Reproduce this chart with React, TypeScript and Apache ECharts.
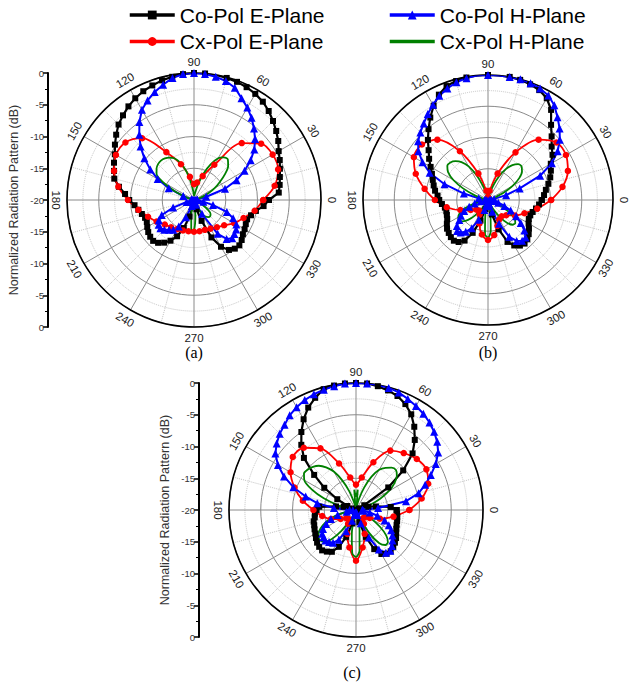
import React, { useEffect, useRef } from "react";
import * as echarts from "echarts";

// ---------- categories / ticks ----------
const ANGLES_5 = Array.from({ length: 72 }, (_, i) => i * 5);
const ANGLES_10 = Array.from({ length: 36 }, (_, i) => i * 10);
const ANGLE_TICKS = [0, 30, 60, 90, 120, 150, 180, 210, 240, 270, 300, 330];
const SERIES_NAMES = ["Co-Pol E-Plane", "Co-Pol H-Plane", "Cx-Pol E-Plane", "Cx-Pol H-Plane"];
const PANEL_LABELS = ["(a)", "(b)", "(c)"];
const AXIS_TITLE = "Normalized Radiation Pattern (dB)";

// ---------- panel (a) ----------
const A_CO_E = [
  -8.2, -6.6, -6.3, -6.0, -5.6, -5.1, -4.6, -3.8, -3.1, -2.4, -1.7, -1.1,
  -0.7, -0.4, -0.2, -0.1, 0, 0, 0, -0.1, -0.3, -0.5, -0.8, -1.1,
  -1.5, -2.0, -2.6, -3.2, -4.0, -4.8, -5.6, -6.1, -6.6, -7.0, -8.0, -9.1,
  -9.8, -10.6, -11.1, -11.5, -11.8, -11.8, -11.5, -11.2, -11.0, -10.9, -11.2, -11.8,
  -12.6, -13.7, -15.3, -17.3, -19.0, -19.8, -20, -19.8, -19.2, -18.5, -16.5, -13.5,
  -11.5, -10.4, -10.0, -9.9, -10.2, -10.6, -10.8, -11.0, -11.1, -10.7, -10.1, -9.0,
];
const A_CO_H = [
  -19.5, -19.8, -19.5, -18.0, -14.8, -12.6, -10.8, -9.1, -7.6, -6.4, -5.3, -4.2,
  -3.2, -2.3, -1.2, -0.6, -0.3, -0.1, 0, -0.1, -0.5, -1.2, -1.9, -2.7,
  -3.6, -5.0, -6.6, -8.1, -9.8, -11.6, -13.4, -15.6, -18.2, -19.6, -20, -20,
  -19.8, -19.7, -19.5, -18.8, -16.5, -14.4, -13.6, -13.2, -13.1, -13.4, -13.9, -14.3,
  -15.2, -17.0, -19.0, -19.6, -19.6, -19.5, -19.3, -19.5, -19.7, -19.6, -19.5, -19.2,
  -17.5, -13.5, -12.0, -11.5, -11.7, -11.9, -12.3, -13.2, -14.5, -16.9, -18.5, -19.5,
];
const A_CX_E = [
  -9.1, -7.1, -5.9, -5.7, -6.2, -8.3, -13.6, -16.0, -17.2, -17.5, -16.3, -14.0,
  -11.3, -7.3, -5.9, -5.8, -6.6, -7.9, -9.6, -11.1, -12.3, -13.2, -14.0, -14.4,
  -14.7, -14.9, -15.0, -15.0, -15.0, -15.0, -14.8, -14.4, -13.8, -12.7, -11.7, -10.3,
];
const A_CX_H = [
  -20, -20, -19.8, -19.5, -18.8, -17.5, -16.2, -15.0, -13.6, -12.4, -11.7, -11.8,
  -12.4, -13.8, -15.5, -17.3, -18.6, -19.2, -19.3, -18.6, -17.2, -15.3, -13.8, -12.8,
  -12.3, -12.0, -11.9, -12.0, -12.3, -12.8, -14.3, -16.6, -18.5, -19.5, -20, -20,
  -20, -20, -20, -20, -20, -20, -20, -20, -20, -20, -20, -20,
  -20, -20, -20, -19.5, -17.5, -15.0, -15.2, -17.5, -19.5, -19.8, -19.5, -18.5,
  -17.4, -16.8, -16.5, -16.4, -16.6, -17.3, -18.5, -19.5, -20, -20, -20, -20,
];

// ---------- panel (b) ----------
const B_CO_E = [
  -11.4, -11.0, -10.6, -10.0, -9.4, -8.9, -8.4, -7.4, -6.7, -5.6, -4.3, -2.4,
  -1.2, -0.6, -0.3, -0.1, 0, 0, 0, 0, -0.1, -0.3, -0.6, -1.4,
  -2.6, -3.9, -5.2, -6.4, -7.6, -8.5, -9.4, -10.1, -10.6, -11.0, -11.4, -11.9,
  -12.2, -12.6, -13.0, -13.1, -13.0, -12.8, -12.4, -12.0, -11.8, -11.6, -11.5, -11.8,
  -12.5, -14.2, -16.5, -18.5, -19.6, -20, -20, -19.8, -19.2, -17.6, -15.0, -12.6,
  -11.6, -11.1, -10.9, -11.1, -11.5, -12.0, -12.5, -12.8, -12.8, -12.6, -12.2, -11.8,
];
const B_CO_H = [
  -19.5, -19.8, -19.0, -17.0, -14.6, -10.8, -8.2, -6.4, -5.0, -3.8, -2.7, -1.5,
  -0.7, -0.3, -0.1, 0, 0, 0, 0, 0, -0.2, -0.5, -1.0, -1.6,
  -2.4, -3.2, -4.0, -4.7, -5.4, -6.4, -7.9, -9.7, -12.6, -16.0, -18.5, -19.5,
  -19.8, -19.5, -18.8, -17.8, -16.8, -15.8, -15.0, -14.4, -13.5, -13.0, -13.2, -13.8,
  -14.8, -16.5, -18.3, -19.3, -19.5, -19.3, -19.0, -19.3, -19.6, -19.3, -18.0, -15.8,
  -13.2, -12.0, -11.5, -11.5, -12.4, -13.6, -14.8, -16.0, -17.2, -18.3, -19.0, -19.5,
];
const B_CX_E = [
  -9.9, -7.9, -6.4, -5.6, -5.7, -7.4, -11.2, -15.5, -18.5, -19.5, -18.5, -15.5,
  -11.0, -7.4, -6.2, -6.3, -7.7, -9.7, -11.5, -13.3, -15.3, -16.8, -17.6, -17.8,
  -17.3, -16.0, -14.4, -13.6, -14.3, -15.6, -16.4, -16.6, -16.2, -15.0, -13.8, -12.0,
];
const B_CX_H = [
  -20, -20, -20, -19.6, -18.8, -17.2, -15.4, -13.9, -12.9, -12.4, -12.5, -13.2,
  -14.3, -15.8, -17.5, -19.0, -19.8, -20, -20, -20, -19.8, -19.0, -17.5, -15.6,
  -13.8, -12.6, -11.9, -11.5, -11.5, -12.2, -13.6, -15.6, -17.6, -19.2, -19.8, -20,
  -20, -19.8, -19.0, -17.6, -16.0, -15.0, -14.5, -14.4, -14.7, -15.5, -16.8, -18.4,
  -19.6, -20, -20, -19.6, -17.5, -14.5, -14.0, -15.0, -17.8, -19.6, -20, -19.6,
  -18.3, -16.6, -15.2, -14.4, -14.3, -14.8, -16.0, -17.6, -19.0, -19.8, -20, -20,
];

// ---------- panel (c) ----------
const C_CO_E = [
  -13.6, -14.5, -16.8, -18.0, -19.3, -19.5, -18.5, -13.8, -10.3, -7.4, -5.6, -4.0,
  -2.6, -1.6, -0.9, -0.5, -0.2, 0, 0, 0, -0.1, -0.3, -1.2, -2.2,
  -3.5, -5.0, -6.6, -8.4, -11.4, -13.9, -16.6, -18.5, -19.3, -18.0, -16.8, -14.2,
  -13.8, -13.5, -13.4, -13.1, -13.0, -12.8, -12.6, -12.3, -12.0, -11.8, -11.7, -12.0,
  -12.4, -13.6, -15.5, -17.8, -19.2, -19.8, -20, -19.8, -19.3, -18.0, -15.5, -13.2,
  -12.0, -11.6, -11.5, -11.7, -12.0, -12.3, -12.7, -13.0, -13.2, -13.3, -13.4, -13.5,
];
const C_CO_H = [
  -19.0, -16.5, -12.0, -9.8, -8.4, -7.0, -5.5, -4.2, -3.3, -2.6, -2.0, -1.5,
  -1.1, -0.7, -0.3, -0.1, 0, 0, 0, 0, -0.2, -0.4, -0.6, -0.9,
  -1.3, -1.8, -2.5, -3.0, -3.7, -4.5, -5.8, -7.5, -9.5, -11.8, -13.8, -16.5,
  -19.0, -19.5, -18.5, -17.0, -15.8, -14.8, -14.0, -13.5, -13.3, -13.2, -13.4, -13.7,
  -14.6, -16.3, -18.2, -19.3, -19.6, -19.5, -19.3, -19.5, -19.6, -19.2, -17.8, -15.2,
  -12.8, -11.8, -11.6, -12.0, -12.5, -13.0, -13.6, -14.3, -15.2, -16.5, -17.8, -18.8,
];
const C_CX_E = [
  -11.6, -9.5, -7.9, -7.2, -7.5, -8.3, -9.2, -12.0, -14.8, -16.0, -14.8, -12.2,
  -8.8, -7.2, -7.0, -8.1, -9.7, -11.5, -13.3, -14.6, -15.8, -17.2, -18.0, -18.2,
  -17.5, -16.0, -14.0, -12.0, -14.0, -16.0, -17.5, -18.3, -18.2, -17.5, -16.0, -14.0,
];
const C_CX_H = [
  -20, -20, -19.8, -19.0, -17.6, -15.8, -14.0, -12.6, -11.6, -11.1, -11.3, -11.9,
  -12.7, -14.2, -16.2, -18.2, -19.5, -16.8, -17.8, -16.8, -19.5, -18.6, -16.8, -14.8,
  -13.0, -11.8, -10.9, -10.4, -10.1, -10.0, -10.6, -12.3, -14.6, -17.0, -18.8, -19.6,
  -19.8, -19.6, -18.6, -17.0, -15.4, -14.2, -13.3, -12.8, -12.6, -12.9, -14.0, -16.0,
  -18.2, -19.5, -20, -19.4, -16.2, -13.2, -12.6, -13.6, -16.8, -19.3, -19.8, -18.4,
  -15.8, -13.6, -12.8, -12.9, -13.8, -15.4, -17.2, -18.8, -19.6, -20, -20, -20,
];

const PANEL_DATA = [
  [A_CO_E, A_CO_H, A_CX_E, A_CX_H],
  [B_CO_E, B_CO_H, B_CX_E, B_CX_H],
  [C_CO_E, C_CO_H, C_CX_E, C_CX_H],
];

// ---------- layout / style ----------
const PANELS = [
  { cx: 194, cy: 200, r: 127, axisX: 48, axisY: 73, lx: 194, ly: 352 },
  { cx: 488, cy: 200, r: 125, axisX: null, axisY: null, lx: 488, ly: 352 },
  { cx: 356, cy: 510, r: 127, axisX: 199, axisY: 383, lx: 352, ly: 672 },
];
const SANS = "Liberation Sans, Arial, sans-serif";
const SERIF = "Liberation Serif, Times New Roman, serif";

const STYLES = [
  { color: "#000000", symbol: "rect", size: 6, width: 2.2, smooth: false, angles: ANGLES_5 },
  { color: "#0000ff", symbol: "triangle", size: 8, width: 2, smooth: false, angles: ANGLES_5 },
  { color: "#ff0000", symbol: "circle", size: 6.5, width: 1.8, smooth: 0.3, angles: ANGLES_10 },
  { color: "#008000", symbol: "none", size: 0, width: 1.8, smooth: 0.3, angles: ANGLES_5 },
];
const DRAW_ORDER = [0, 2, 1, 3];

function toPolar(values: number[], angles: number[]) {
  const pts = values.map((v, i) => [v, angles[i]]);
  pts.push([values[0], 360]);
  return pts;
}

function buildOption() {
  const series: any[] = [];
  PANELS.forEach((_, k) => {
    DRAW_ORDER.forEach((s) => {
      const st = STYLES[s];
      series.push({
        name: SERIES_NAMES[s],
        type: "line",
        coordinateSystem: "polar",
        polarIndex: k,
        data: toPolar(PANEL_DATA[k][s], st.angles),
        symbol: st.symbol,
        symbolSize: st.size,
        showSymbol: st.symbol !== "none",
        smooth: st.smooth,
        lineStyle: { color: st.color, width: st.width },
        itemStyle: { color: st.color },
        silent: true,
      });
    });
  });

  const graphic: any[] = [];
  PANELS.forEach((p, k) => {
    ANGLE_TICKS.forEach((a) => {
      const rad = (a * Math.PI) / 180;
      const rr = p.r + 11;
      const rot = a < 180 ? a - 90 : a - 270;
      graphic.push({
        type: "text",
        x: p.cx + rr * Math.cos(rad),
        y: p.cy - rr * Math.sin(rad),
        rotation: (rot * Math.PI) / 180,
        silent: true,
        style: {
          text: String(a),
          fontSize: 11.5,
          fontFamily: SANS,
          fill: "#1a1a1a",
          align: "center",
          verticalAlign: "middle",
        },
      });
    });
    graphic.push({
      type: "text",
      x: p.lx,
      y: p.ly,
      silent: true,
      style: {
        text: PANEL_LABELS[k],
        fontSize: 16,
        fontFamily: SERIF,
        fill: "#000",
        align: "center",
        verticalAlign: "middle",
      },
    });
  });

  const axisPanels = PANELS.filter((p) => p.axisX !== null);
  const grid = axisPanels.map((p) => ({
    left: p.axisX,
    top: p.axisY,
    width: 20,
    height: 2 * p.r,
    containLabel: false,
    outerBoundsMode: "none",
  }));
  const xAxis = axisPanels.map((_, i) => ({ gridIndex: i, type: "value", show: false, min: 0, max: 1 }));
  const yAxis = axisPanels.map((_, i) => ({
    gridIndex: i,
    type: "value",
    min: -20,
    max: 20,
    interval: 5,
    position: "left",
    axisLine: { show: true, lineStyle: { color: "#000", width: 2 } },
    axisTick: { show: true, length: 5, lineStyle: { color: "#000", width: 1.5 } },
    minorTick: { show: true, splitNumber: 2, length: 3, lineStyle: { color: "#000", width: 1 } },
    axisLabel: {
      formatter: (v: number) => String(Math.abs(v) - 20),
      fontSize: 9.5,
      color: "#333",
      margin: 4,
      fontFamily: SANS,
    },
    splitLine: { show: false },
    name: AXIS_TITLE,
    nameLocation: "middle",
    nameRotate: 90,
    nameGap: 28,
    nameTextStyle: { fontSize: 12.5, color: "#333", fontFamily: SANS },
  }));

  const legendCommon = {
    top: 4.5,
    orient: "vertical",
    padding: 0,
    itemWidth: 45,
    itemHeight: 11,
    itemGap: 5.5,
    selectedMode: false,
    lineStyle: { width: 3.5 },
    textStyle: { fontSize: 21, fontFamily: SANS, color: "#000" },
  };

  return {
    animation: false,
    backgroundColor: "#ffffff",
    legend: [
      { ...legendCommon, left: 128, data: [SERIES_NAMES[0], SERIES_NAMES[2]] },
      {
        ...legendCommon,
        left: 388,
        data: [SERIES_NAMES[1], { name: SERIES_NAMES[3], icon: "path://M0,0H45V3.5H0Z" }],
      },
    ],
    polar: PANELS.map((p) => ({ center: [p.cx, p.cy], radius: p.r })),
    angleAxis: PANELS.map((_, k) => ({
      polarIndex: k,
      type: "value",
      min: 0,
      max: 360,
      interval: 30,
      startAngle: 0,
      clockwise: false,
      axisLine: { show: true, lineStyle: { color: "#000", width: 1.6 } },
      axisTick: { show: false },
      axisLabel: { show: false },
      splitLine: { show: true, lineStyle: { color: "#8a8a8a", width: 1 } },
      minorTick: { show: false, splitNumber: 2 },
      minorSplitLine: { show: true, lineStyle: { color: "#c4c4c4", width: 1, type: "dotted" } },
    })),
    radiusAxis: PANELS.map((_, k) => ({
      polarIndex: k,
      type: "value",
      min: -20,
      max: 0,
      interval: 5,
      axisLine: { show: false },
      axisTick: { show: false },
      axisLabel: { show: false },
      splitLine: { show: true, lineStyle: { color: "#8a8a8a", width: 1 } },
      minorTick: { show: false, splitNumber: 2 },
      minorSplitLine: { show: true, lineStyle: { color: "#c4c4c4", width: 1, type: "dotted" } },
    })),
    grid,
    xAxis,
    yAxis,
    graphic,
    series,
  };
}

export default function App() {
  const ref = useRef<HTMLDivElement>(null);
  useEffect(() => {
    if (!ref.current) return;
    const chart = echarts.init(ref.current, null, { renderer: "svg" });
    chart.setOption(buildOption() as any);
    return () => chart.dispose();
  }, []);
  return (
    <div
      ref={ref}
      style={{ position: "fixed", left: 0, top: 0, width: 629, height: 686, background: "#fff" }}
    />
  );
}
